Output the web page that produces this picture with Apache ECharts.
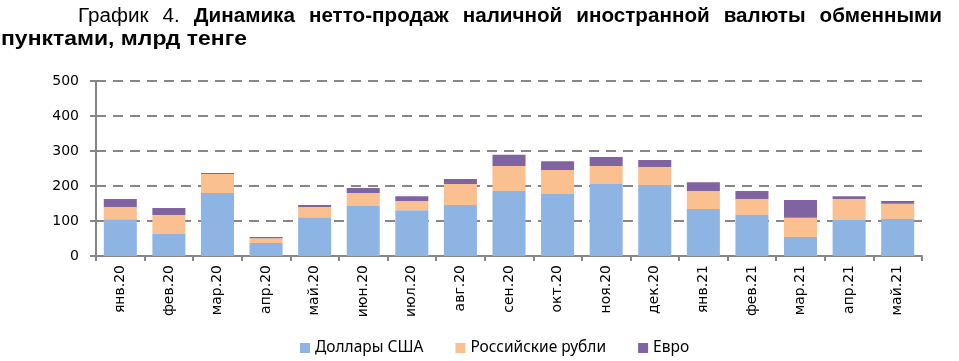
<!DOCTYPE html>
<html>
<head>
<meta charset="utf-8">
<script src="https://cdn.jsdelivr.net/npm/echarts@6/dist/echarts.min.js"></script>
<style>
html,body{margin:0;padding:0;background:#fff;}
#chart{width:959px;height:361px;}
</style>
</head>
<body>
<div id="chart"></div>
<script>
// ---- data ----
const categories = ['янв.20','фев.20','мар.20','апр.20','май.20','июн.20','июл.20','авг.20','сен.20','окт.20','ноя.20','дек.20','янв.21','фев.21','мар.21','апр.21','май.21'];
const usd = [105,63,180,37,111,143,131,146,186,177,206,203,134,117,54,103,106];
const rub = [35,54,54,14,29,37,26,60,71,69,51,51,52,46,55,60,43];
const eur = [23,20,3,3,6,14,14,14,32,25,26,20,25,23,51,8,8];
const seriesNames = ['Доллары США','Российские рубли','Евро'];
const yTicks = [0,100,200,300,400,500];
const titleLine1 = ['График','4.','Динамика','нетто-продаж','наличной','иностранной','валюты','обменными'];
const titleLine1Bold = [false,false,true,true,true,true,true,true];
const titleLine2 = 'пунктами, млрд тенге';

// ---- title layout (justified first line, horizontally condensed) ----
const titleFamily = "'Liberation Sans',Arial,sans-serif";
const cv = document.createElement('canvas').getContext('2d');
function measure(txt, bold, size){
  cv.font = (bold?'bold ':'') + size + 'px ' + titleFamily;
  return cv.measureText(txt).width;
}
const fs = 19.5;
const line1Left = 78, line1Right = 942, wordGap = 14;
const rawW = titleLine1.map((w,i)=>measure(w, titleLine1Bold[i], fs));
const rawTotal = rawW.reduce((a,b)=>a+b,0);
const sx1 = (line1Right - line1Left - wordGap*(titleLine1.length-1)) / rawTotal;
const sx2 = 246 / measure(titleLine2, true, fs);
const graphics = [];
let cx = line1Left;
titleLine1.forEach((w,i)=>{
  graphics.push({type:'text', x:cx, y:27, scaleX:sx1, silent:true,
    style:{text:w, x:0, y:0, verticalAlign:'bottom', font:(titleLine1Bold[i]?'bold ':'') + fs + 'px ' + titleFamily, fill:'#000'}});
  cx += rawW[i]*sx1 + wordGap;
});
graphics.push({type:'text', x:1, y:50, scaleX:sx2, silent:true,
  style:{text:titleLine2, x:0, y:0, verticalAlign:'bottom', font:'bold ' + fs + 'px ' + titleFamily, fill:'#000'}});

// ---- chart ----
const axisColor = '#868686';
const chart = echarts.init(document.getElementById('chart'), null, {renderer:'canvas'});
const colors = ['#8EB4E3','#FAC090','#8064A2'];
const values = [usd, rub, eur];
chart.setOption({
  animation:false,
  color:colors,
  graphic:graphics,
  grid:{left:96, right:37, top:81, bottom:105},
  legend:{
    data:seriesNames, left:295, top:335, icon:'rect', itemWidth:10, itemHeight:10, itemGap:32,
    textStyle:{fontFamily:'Noto Sans', fontSize:15.5, color:'#000'}
  },
  xAxis:{
    type:'category', data:categories,
    axisLine:{lineStyle:{color:axisColor, width:2}},
    axisTick:{show:true, length:5, lineStyle:{color:axisColor, width:2}},
    axisLabel:{rotate:90, margin:9, fontFamily:'DejaVu Sans', fontSize:14, color:'#000'}
  },
  yAxis:{
    type:'value', min:yTicks[0], max:yTicks[yTicks.length-1], interval:yTicks[1]-yTicks[0],
    axisLine:{show:true, lineStyle:{color:axisColor, width:2}},
    axisTick:{show:true, length:6, lineStyle:{color:axisColor, width:2}},
    axisLabel:{margin:17, fontFamily:'DejaVu Sans', fontSize:14, color:'#000'},
    splitLine:{show:true, lineStyle:{color:axisColor, width:2, type:[10,7]}}
  },
  series: seriesNames.map((n,i)=>({
    name:n, type:'bar', stack:'total', data:values[i], barWidth:'68%',
    emphasis:{disabled:true}
  }))
});
</script>
</body>
</html>
